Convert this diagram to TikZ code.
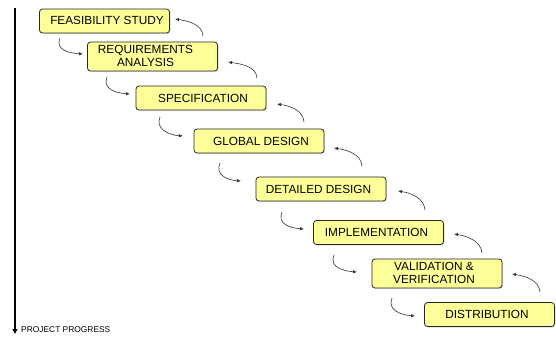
\documentclass[tikz,border=0pt]{standalone}
\usepackage{fontspec}
\setmainfont{Liberation Sans}
\usetikzlibrary{arrows.meta,shadows}
\definecolor{boxfill}{HTML}{FFFF99}
\begin{document}
\begin{tikzpicture}[x=1pt,y=-1pt,
  box/.style={draw=black!85, line width=0.8pt, fill=boxfill, rounded corners=3pt,
    minimum width=130pt, minimum height=24pt, inner sep=0pt,
    drop shadow={shadow xshift=1pt, shadow yshift=-1pt, opacity=0.25}},
  tallbox/.style={box, minimum height=29pt},
  txt/.style={font=\fontsize{11.8pt}{13pt}\selectfont, align=center, inner sep=0pt},
  loop/.style={draw=black!80, line width=0.6pt, -{Latex[length=4pt,width=3.4pt]}},
  progress/.style={draw=black, line width=1.2pt, -{Latex[length=5pt,width=6pt]}}
]
\useasboundingbox (0,0) rectangle (556,338);

% boxes
\node[box]     (b1) at (104.5,21)   {};
\node[tallbox] (b2) at (152.5,56.5) {};
\node[box]     (b3) at (201,98)     {};
\node[box]     (b4) at (259,141)    {};
\node[box]     (b5) at (321,189)    {};
\node[box]     (b6) at (378.5,232.5){};
\node[tallbox] (b7) at (437,273.5)  {};
\node[box]     (b8) at (489.5,314.5){};

% texts
\node[txt] (t1) at (107,20.5)  {FEASIBILITY STUDY};
\node[txt] (t2) at (145.5,56)  {REQUIREMENTS\\ANALYSIS};
\node[txt] (t3) at (203,98)    {SPECIFICATION};
\node[txt] (t4) at (261,141)   {GLOBAL DESIGN};
\node[txt] (t5) at (318.5,189) {DETAILED DESIGN};
\node[txt] (t6) at (376.5,232) {IMPLEMENTATION};
\node[txt] (t7) at (434,273)   {VALIDATION \&\\VERIFICATION};
\node[txt] (t8) at (487,314.5) {DISTRIBUTION};

% forward (left) arrows
\coordinate (ls1) at (60,38);   \coordinate (le1) at (83,54);
\coordinate (ls2) at (107,77);  \coordinate (le2) at (130,94);
\coordinate (ls3) at (160,117); \coordinate (le3) at (183,136);
\coordinate (ls4) at (220,163); \coordinate (le4) at (241,181);
\coordinate (ls5) at (282,212); \coordinate (le5) at (304,229);
\coordinate (ls6) at (334,255); \coordinate (le6) at (357,272);
\coordinate (ls7) at (392,298); \coordinate (le7) at (415,316);
\foreach \i in {1,...,7}{
  \draw[loop] (ls\i) .. controls +(-5,12) and +(-14,-1) .. (le\i);
}

% feedback (right) arrows
\coordinate (rs1) at (203,36);  \coordinate (re1) at (175,19);
\coordinate (rs2) at (257,78);  \coordinate (re2) at (228,62);
\coordinate (rs3) at (304,122); \coordinate (re3) at (277,104);
\coordinate (rs4) at (362,166); \coordinate (re4) at (334,148);
\coordinate (rs5) at (425,210); \coordinate (re5) at (398,191);
\coordinate (rs6) at (482,253); \coordinate (re6) at (454,234);
\coordinate (rs7) at (540,292); \coordinate (re7) at (512,274);
\foreach \i in {1,...,7}{
  \draw[loop] (rs\i) .. controls +(-1,-12) and +(13,2) .. (re\i);
}

% project progress axis
\coordinate (ptop) at (15,8);
\coordinate (pbot) at (15,334);
\draw[progress] (ptop) -- (pbot);
\node[anchor=west, inner sep=0pt, font=\fontsize{8.4pt}{9pt}\selectfont] (plabel) at (21,329.5) {PROJECT PROGRESS};
\end{tikzpicture}
\end{document}
